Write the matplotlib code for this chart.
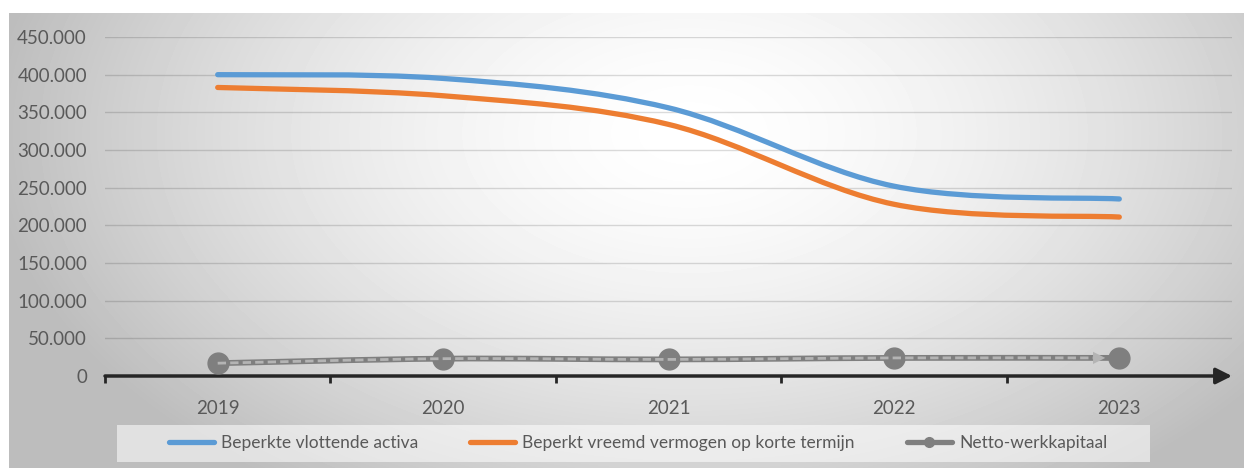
import matplotlib
matplotlib.use("Agg")
import matplotlib.pyplot as plt
from matplotlib.path import Path
from matplotlib.patches import PathPatch, Rectangle
from matplotlib.lines import Line2D
from matplotlib.ticker import FuncFormatter
import numpy as np

plt.rcParams["font.family"] = ["Lato", "DejaVu Sans"]
plt.rcParams["font.size"] = 12.5

years = ["2019", "2020", "2021", "2022", "2023"]
vlottende_activa = [400000, 395000, 356000, 252000, 235000]
vreemd_vermogen = [383000, 372000, 334000, 228000, 211000]
werkkapitaal = [17000, 23000, 22000, 24000, 24000]

blue = "#5b9bd5"
orange = "#ed7d31"
gray = "#7f7f7f"
text_col = "#595959"


def smooth_path(xs, ys):
    # excel style smoothing: bezier segments, catmull-rom control points
    pts = np.column_stack([xs, ys]).astype(float)
    ext = np.vstack([pts[0], pts, pts[-1]])
    verts = [pts[0]]
    codes = [Path.MOVETO]
    for i in range(1, len(ext) - 2):
        p0, p1, p2, p3 = ext[i - 1], ext[i], ext[i + 1], ext[i + 2]
        verts += [p1 + (p2 - p0) / 6, p2 - (p3 - p1) / 6, p2]
        codes += [Path.CURVE4] * 3
    return Path(verts, codes)


fig = plt.figure(figsize=(12.44, 4.68), dpi=100)

# radial background
bg = fig.add_axes([9 / 1244, 0, 1 - 9 / 1244, 1 - 13 / 468], zorder=-10)
W, H = 1235, 455
gx, gy = np.meshgrid(np.arange(W), np.arange(H))
r = np.sqrt(((gx - 680) / 700.0) ** 2 + ((gy - 120) / 430.0) ** 2)
shade = 1 - 0.26 * np.clip(r, 0, 1) ** 1.6
bg.imshow(shade, cmap="gray", vmin=0, vmax=1, aspect="auto", interpolation="bilinear")
bg.axis("off")

ax = fig.add_axes([105 / 1244, 1 - 376 / 468, 1127 / 1244, 339 / 468])
ax.patch.set_alpha(0)
x = np.arange(len(years))

ax.add_patch(PathPatch(smooth_path(x, vlottende_activa), fill=False, edgecolor=blue,
                       lw=3.8, capstyle="round", zorder=3))
ax.add_patch(PathPatch(smooth_path(x, vreemd_vermogen), fill=False, edgecolor=orange,
                       lw=3.8, capstyle="round", zorder=3))
ax.add_patch(PathPatch(smooth_path(x, werkkapitaal), fill=False, edgecolor=gray,
                       lw=4.2, capstyle="round", zorder=4, clip_on=False))
ax.plot(x, werkkapitaal, "o", color=gray, ms=15, zorder=5, clip_on=False)
ax.add_patch(PathPatch(smooth_path(x[:-1].tolist() + [x[-1] - 0.07], werkkapitaal),
                       fill=False, edgecolor="#b4b4b4", lw=2.0, ls=(0, (3, 1.5)),
                       zorder=6, clip_on=False))
ax.annotate("", xy=(x[-1] - 0.05, werkkapitaal[-1]), xytext=(x[-1] - 0.17, werkkapitaal[-1]),
            arrowprops=dict(arrowstyle="-|>", color="#b4b4b4", lw=0, mutation_scale=22),
            zorder=6)

ax.set_xlim(-0.5, len(years) - 0.5)
ax.set_ylim(0, 450000)
ax.set_yticks(np.arange(0, 450001, 50000))
ax.yaxis.set_major_formatter(FuncFormatter(lambda v, p: "{:,.0f}".format(v).replace(",", ".")))
ax.set_xticks(x)
ax.set_xticklabels(years)
ax.set_xticks(np.arange(-0.5, len(years) - 0.4, 1.0)[:-1], minor=True)
ax.tick_params(axis="x", which="major", length=0, pad=17, labelcolor=text_col, labelsize=13.5)
ax.tick_params(axis="x", which="minor", length=5, width=2, color="#262626", direction="out")
ax.tick_params(axis="y", length=0, pad=13, labelcolor=text_col, labelsize=13.5)
ax.grid(axis="y", color="black", alpha=0.14, lw=1)
for s in ax.spines.values():
    s.set_visible(False)

# x axis with arrow
ax.annotate("", xy=(len(years) - 0.5, 0), xytext=(-0.5, 0), xycoords="data",
            arrowprops=dict(arrowstyle="-|>", color="#262626", lw=2.5, mutation_scale=24,
                            shrinkA=0, shrinkB=0), annotation_clip=False, zorder=2)

# legend
fig.patches.append(Rectangle((117 / 1244, 1 - 462 / 468), 1033 / 1244, 37 / 468,
                             transform=fig.transFigure, facecolor="white", alpha=0.55,
                             edgecolor="none", zorder=0))
handles = [
    Line2D([], [], color=blue, lw=3.8, solid_capstyle="round"),
    Line2D([], [], color=orange, lw=3.8, solid_capstyle="round"),
    Line2D([], [], color=gray, lw=3.8, marker="o", ms=7, solid_capstyle="round"),
]
labels = ["Beperkte vlottende activa", "Beperkt vreemd vermogen op korte termijn",
          "Netto-werkkapitaal"]
leg = fig.legend(handles, labels, loc="center", bbox_to_anchor=(638 / 1244, 1 - 443 / 468),
                 ncol=3, frameon=False, handlelength=2.6, handletextpad=0.4,
                 columnspacing=3.0, labelcolor=text_col)

fig.savefig("out.png", dpi=100)
